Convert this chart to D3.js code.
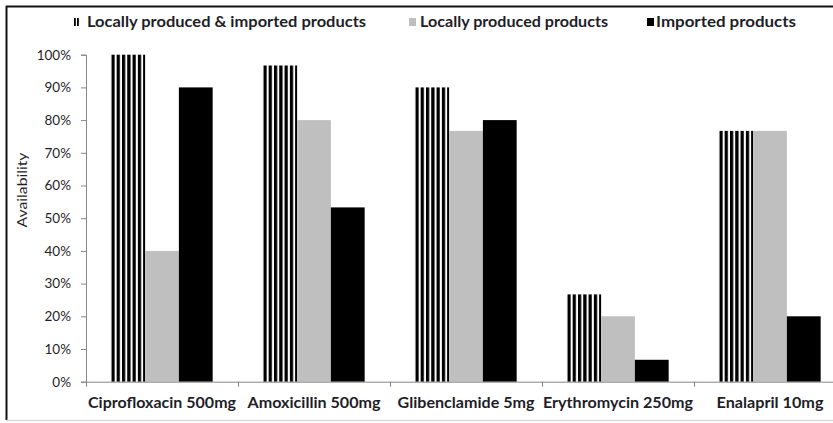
<!DOCTYPE html>
<html>
<head>
<meta charset="utf-8">
<script src="https://cdn.jsdelivr.net/npm/d3@7"></script>
<style>
  html, body { margin: 0; padding: 0; background: #fff; }
  svg { display: block; }
  text { font-family: Lato, "Open Sans", sans-serif; fill: #1e1e28; }
</style>
</head>
<body>
<svg id="chart" width="833" height="423"></svg>
<script>
// Medicine availability by product origin
const categories = ["Ciprofloxacin 500mg", "Amoxicillin 500mg", "Glibenclamide 5mg", "Erythromycin 250mg", "Enalapril 10mg"];
const seriesNames = ["Locally produced & imported products", "Locally produced products", "Imported products"];
const localAndImported = [100, 96.7, 90, 26.7, 76.7];
const localOnly = [40, 80, 76.7, 20, 76.7];
const importedOnly = [90, 53.3, 80, 6.7, 20];
const yTicks = [0, 10, 20, 30, 40, 50, 60, 70, 80, 90, 100];

const seriesValues = [localAndImported, localOnly, importedOnly];
const labelWidths = [148, 133, 137, 150, 107];
const legendWidths = [279, 188, 140];

const svg = d3.select("#chart");
const W = 833, H = 423;

// Frame
svg.append("line").attr("x1", 6).attr("x2", W).attr("y1", 6.5).attr("y2", 6.5)
  .attr("stroke", "#111").attr("stroke-width", 2);
svg.append("line").attr("x1", 6.5).attr("x2", 6.5).attr("y1", 6).attr("y2", 420)
  .attr("stroke", "#111").attr("stroke-width", 2);
svg.append("line").attr("x1", 6).attr("x2", W).attr("y1", 420.5).attr("y2", 420.5)
  .attr("stroke", "#d9d9d9").attr("stroke-width", 1.5);

// Scales
const plotLeft = 86, plotTop = 54.7, plotBottom = 381.7, step = 152;
const x0 = d3.scaleBand().domain(categories).range([plotLeft, plotLeft + step * categories.length]).padding(0);
const x1 = d3.scaleBand().domain(seriesNames).range([0, x0.bandwidth()]).paddingInner(0).paddingOuter(0.75);
const y = d3.scaleLinear().domain([0, 100]).range([plotBottom, plotTop]);

// Vertical stripe fills
const defs = svg.append("defs");
const pat = defs.append("pattern").attr("id", "stripes")
  .attr("patternUnits", "objectBoundingBox")
  .attr("patternContentUnits", "objectBoundingBox")
  .attr("width", 0.157).attr("height", 1);
pat.append("rect").attr("x", 0).attr("y", 0).attr("width", 0.157).attr("height", 1).attr("fill", "#fff");
pat.append("rect").attr("x", 0).attr("y", 0).attr("width", 0.097).attr("height", 1).attr("fill", "#000");

const lp = defs.append("pattern").attr("id", "legendStripes")
  .attr("patternUnits", "objectBoundingBox")
  .attr("patternContentUnits", "objectBoundingBox")
  .attr("width", 0.5).attr("height", 1);
lp.append("rect").attr("width", 0.5).attr("height", 1).attr("fill", "#fff");
lp.append("rect").attr("width", 0.3).attr("height", 1).attr("fill", "#000");

const fills = ["url(#stripes)", "#bfbfbf", "#000"];

// Bars
const groups = svg.append("g").selectAll("g")
  .data(categories).join("g")
  .attr("transform", d => `translate(${x0(d)},0)`);

groups.selectAll("rect")
  .data((c, i) => seriesNames.map((s, j) => ({ s, j, v: seriesValues[j][i] })))
  .join("rect")
  .attr("x", d => x1(d.s))
  .attr("width", x1.bandwidth())
  .attr("y", d => y(d.v))
  .attr("height", d => y(0) - y(d.v))
  .attr("fill", d => fills[d.j]);

// Y axis
const yAxis = d3.axisLeft(y).tickValues(yTicks).tickFormat(d => d + "%").tickSize(5).tickPadding(10);
const gy = svg.append("g").attr("transform", `translate(${plotLeft},0)`).call(yAxis);
gy.select(".domain").attr("stroke", "#868686");
gy.selectAll(".tick line").attr("stroke", "#868686");
gy.selectAll(".tick text").attr("font-size", 13.5).attr("fill", "#1e1e28")
  .style("font-family", "Lato, sans-serif");

// X axis: baseline with ticks at category boundaries
const gx = svg.append("g").attr("transform", `translate(0,${plotBottom})`);
gx.append("line").attr("x1", plotLeft).attr("x2", x0.range()[1]).attr("y1", 0.5).attr("y2", 0.5)
  .attr("stroke", "#868686");
gx.selectAll("line.tk").data(categories.concat([null])).join("line").attr("class", "tk")
  .attr("x1", (d, i) => Math.round(plotLeft + i * x0.step()) + 0.5)
  .attr("x2", (d, i) => Math.round(plotLeft + i * x0.step()) + 0.5)
  .attr("y1", 0).attr("y2", 5).attr("stroke", "#868686");
gx.selectAll("text").data(categories).join("text")
  .attr("x", d => x0(d) + x0.bandwidth() / 2)
  .attr("y", 26)
  .attr("text-anchor", "middle")
  .attr("font-size", 14.5).attr("font-weight", "bold")
  .attr("textLength", (d, i) => labelWidths[i])
  .attr("lengthAdjust", "spacingAndGlyphs")
  .text(d => d);

// Y axis title
svg.append("text")
  .attr("transform", `translate(27,190) rotate(-90)`)
  .attr("text-anchor", "middle")
  .attr("font-size", 13.3)
  .attr("textLength", 75).attr("lengthAdjust", "spacingAndGlyphs")
  .text("Availability");

// Legend
const legendX = [74, 409, 647];
const legendTextX = [87, 420, 656];
const lg = svg.append("g").selectAll("g").data(seriesNames).join("g");
lg.append("rect")
  .attr("x", (d, i) => legendX[i]).attr("y", 18)
  .attr("width", (d, i) => i === 0 ? 6 : 7).attr("height", 8)
  .attr("fill", (d, i) => i === 0 ? "url(#legendStripes)" : fills[i]);
lg.append("text")
  .attr("x", (d, i) => legendTextX[i]).attr("y", 27)
  .attr("font-size", 14.5).attr("font-weight", "bold")
  .attr("textLength", (d, i) => legendWidths[i])
  .attr("lengthAdjust", "spacingAndGlyphs")
  .text(d => d);
</script>
</body>
</html>
